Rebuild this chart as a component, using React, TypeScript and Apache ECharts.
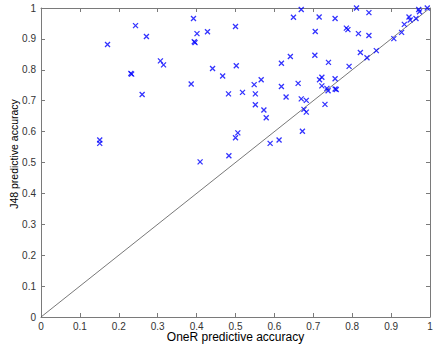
import React, { useEffect, useRef } from "react";
import * as echarts from "echarts";

const oneRAccuracy: number[] = [
  0.151, 0.151, 0.171, 0.231, 0.233, 0.243, 0.26, 0.271, 0.307, 0.315,
  0.386, 0.392, 0.394, 0.396, 0.401, 0.409, 0.428, 0.441, 0.467, 0.482,
  0.483, 0.5, 0.502, 0.5, 0.506, 0.518, 0.548, 0.551, 0.551, 0.566,
  0.573, 0.579, 0.589, 0.612, 0.618, 0.618, 0.63, 0.641, 0.649, 0.661,
  0.669, 0.669, 0.672, 0.676, 0.682, 0.682, 0.704, 0.705, 0.715, 0.716,
  0.722, 0.722, 0.73, 0.735, 0.738, 0.739, 0.756, 0.756, 0.756, 0.759,
  0.785, 0.789, 0.792, 0.811, 0.816, 0.821, 0.838, 0.843, 0.843, 0.862,
  0.907, 0.927, 0.934, 0.946, 0.949, 0.964, 0.971, 0.973, 0.993,
];

const j48Accuracy: number[] = [
  0.573, 0.562, 0.882, 0.788, 0.786, 0.943, 0.72, 0.908, 0.829, 0.816,
  0.754, 0.966, 0.891, 0.888, 0.917, 0.502, 0.923, 0.804, 0.78, 0.722,
  0.522, 0.94, 0.813, 0.58, 0.596, 0.727, 0.752, 0.722, 0.687, 0.768,
  0.67, 0.645, 0.562, 0.573, 0.821, 0.746, 0.712, 0.843, 0.97, 0.756,
  0.995, 0.706, 0.601, 0.672, 0.701, 0.663, 0.847, 0.924, 0.971, 0.768,
  0.776, 0.748, 0.688, 0.74, 0.732, 0.824, 0.966, 0.771, 0.738, 0.736,
  0.935, 0.93, 0.811, 1.0, 0.917, 0.856, 0.839, 0.985, 0.911, 0.862,
  0.901, 0.921, 0.947, 0.971, 0.961, 0.966, 0.995, 0.988, 1.0,
];

const diagonalLine: number[][] = [
  [0, 0],
  [1, 1],
];

const xAxisTitle = "OneR predictive accuracy";
const yAxisTitle = "J48 predictive accuracy";

const fmt = (v: number) => String(+Number(v).toFixed(1));

export default function App() {
  const ref = useRef<HTMLDivElement>(null);
  useEffect(() => {
    if (!ref.current) return;
    const chart = echarts.init(ref.current, undefined, { renderer: "svg" });
    const axisColor = "#7a7a7a";
    const labelStyle = {
      color: "#333",
      fontSize: 10,
      fontFamily: "Liberation Sans, Arial, sans-serif",
    };
    const baseAxis = {
      type: "value" as const,
      min: 0,
      max: 1,
      interval: 0.1,
      splitLine: { show: false },
      axisLine: { show: true, onZero: false, lineStyle: { color: axisColor, width: 1 } },
      axisTick: { show: true, inside: true, length: 4, lineStyle: { color: axisColor } },
    };
    chart.setOption({
      animation: false,
      backgroundColor: "#fff",
      grid: {
        left: 41,
        right: 3,
        top: 8,
        bottom: 30,
        containLabel: false,
        outerBoundsMode: "none",
      },
      graphic: [
        {
          type: "text",
          x: 14,
          y: 154,
          rotation: Math.PI / 2,
          style: {
            text: yAxisTitle,
            fill: "#000",
            font: "10.5px 'Liberation Sans', Arial, sans-serif",
            align: "center",
            verticalAlign: "middle",
          },
        },
        {
          type: "text",
          x: 235.5,
          y: 337,
          style: {
            text: xAxisTitle,
            fill: "#000",
            font: "12px 'Liberation Sans', Arial, sans-serif",
            align: "center",
            verticalAlign: "middle",
          },
        },
      ],
      xAxis: [
        {
          ...baseAxis,
          position: "bottom",
          axisLabel: { ...labelStyle, margin: 4, formatter: fmt },
        },
        {
          ...baseAxis,
          position: "top",
          axisLabel: { show: false },
        },
      ],
      yAxis: [
        {
          ...baseAxis,
          position: "left",
          axisLabel: { ...labelStyle, margin: 5, formatter: fmt },
        },
        {
          ...baseAxis,
          position: "right",
          axisLabel: { show: false },
        },
      ],
      series: [
        {
          type: "line",
          data: diagonalLine,
          xAxisIndex: 0,
          yAxisIndex: 0,
          symbol: "none",
          lineStyle: { color: "#555", width: 0.8 },
          silent: true,
          z: 1,
        },
        {
          type: "scatter",
          xAxisIndex: 0,
          yAxisIndex: 0,
          data: oneRAccuracy.map((x, i) => [x, j48Accuracy[i]]),
          symbol: "path://M0,0L10,10M10,0L0,10",
          symbolSize: 5,
          itemStyle: { color: "none", borderColor: "#0000ff", borderWidth: 1.3 },
          z: 2,
        },
      ],
    });
    return () => chart.dispose();
  }, []);
  return (
    <div
      ref={ref}
      style={{ position: "fixed", left: 0, top: 0, width: 433, height: 347, background: "#fff" }}
    />
  );
}
